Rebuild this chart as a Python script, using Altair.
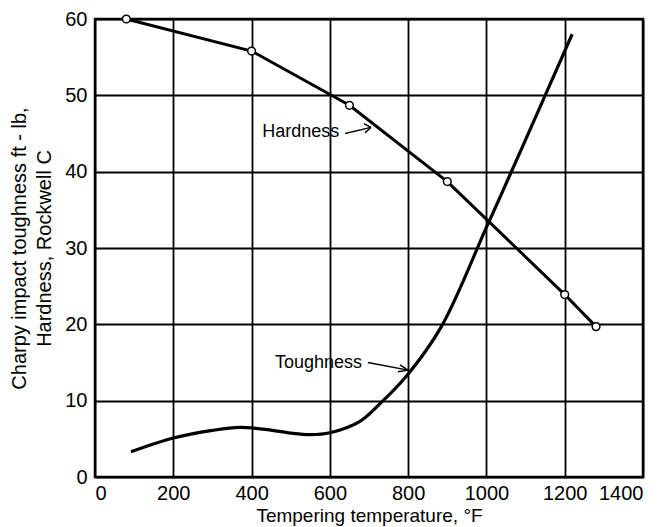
import altair as alt
import pandas as pd

# Hardness data (Rockwell C) vs tempering temperature
hard_temp = [80, 400, 650, 900, 1200, 1280]
hard_val = [60.0, 55.8, 48.7, 38.7, 23.9, 19.7]

# Charpy toughness curve (ft-lb)
tough_temp = [92, 200, 300, 370, 440, 500, 550, 600, 677, 728, 797, 886, 999, 1030, 1145, 1219]
tough_val = [3.3, 5.1, 6.1, 6.5, 6.2, 5.75, 5.55, 5.8, 7.3, 9.6, 13.3, 19.8, 32.6, 36.1, 49.4, 58.0]

x_ticks = [0, 200, 400, 600, 800, 1000, 1200, 1400]
y_ticks = [0, 10, 20, 30, 40, 50, 60]

# annotation labels
label_text = ["Hardness", "Toughness"]
label_x = [427, 460]
label_y = [45.2, 14.9]

# arrow segments: shaft + two head wings per arrow
arrow_seg = ["h_shaft", "h_shaft", "h_w1", "h_w1", "h_w2", "h_w2",
             "t_shaft", "t_shaft", "t_w1", "t_w1", "t_w2", "t_w2"]
arrow_x = [639, 705, 687, 705, 690, 705,
           697, 800, 779, 800, 774, 800]
arrow_y = [45.0, 45.8, 46.3, 45.8, 45.1, 45.8,
           15.0, 14.0, 14.7, 14.0, 13.8, 14.0]
arrow_ord = [0, 1, 0, 1, 0, 1, 0, 1, 0, 1, 0, 1]

hard_df = pd.DataFrame({"t": hard_temp, "v": hard_val})
tough_df = pd.DataFrame({"t": tough_temp, "v": tough_val})
lab_df = pd.DataFrame({"text": label_text, "t": label_x, "v": label_y})
arr_df = pd.DataFrame({"seg": arrow_seg, "t": arrow_x, "v": arrow_y, "o": arrow_ord})

FONT = "Liberation Sans"

xenc = alt.X("t:Q", scale=alt.Scale(domain=[0, 1400], nice=False),
             axis=alt.Axis(values=x_ticks, title="Tempering temperature, °F",
                           format="d"))
yenc = alt.Y("v:Q", scale=alt.Scale(domain=[0, 60], nice=False),
             axis=alt.Axis(values=y_ticks,
                           title=["Charpy impact toughness ft - lb,", "Hardness, Rockwell C"]))

hard_line = alt.Chart(hard_df).mark_line(color="black", strokeWidth=3).encode(x=xenc, y=yenc)
hard_pts = alt.Chart(hard_df).mark_point(
    shape="circle", filled=True, fill="white", stroke="black", strokeWidth=1.5,
    size=60, opacity=1).encode(x="t:Q", y="v:Q")
tough_line = alt.Chart(tough_df).mark_line(
    color="black", strokeWidth=3.2, interpolate="catmull-rom").encode(x="t:Q", y="v:Q")
labels = alt.Chart(lab_df).mark_text(
    align="left", baseline="middle", font=FONT, fontSize=18, color="black"
).encode(x="t:Q", y="v:Q", text="text:N")
arrows = alt.Chart(arr_df).mark_line(color="black", strokeWidth=1.5).encode(
    x="t:Q", y="v:Q", detail="seg:N", order="o:Q")

chart = alt.layer(hard_line, tough_line, hard_pts, arrows, labels).properties(
    width=548, height=458,
    autosize=alt.AutoSizeParams(type="none"),
    padding={"left": 87, "top": 11, "right": 19, "bottom": 50},
    background="white",
).configure_view(
    stroke="black", strokeWidth=2.5
).configure_axis(
    grid=True, gridColor="black", gridWidth=1.8, gridOpacity=1,
    domain=False, ticks=False,
    labelFont=FONT, labelFontSize=20, labelColor="black",
    titleFont=FONT, titleFontWeight="normal", titleColor="black",
).configure_axisX(
    labelPadding=6, titlePadding=3, titleFontSize=19
).configure_axisY(
    labelPadding=8, titlePadding=10, titleLineHeight=25, titleFontSize=20
)

chart.save("out.html", embed_options={"renderer": "svg", "actions": False})
